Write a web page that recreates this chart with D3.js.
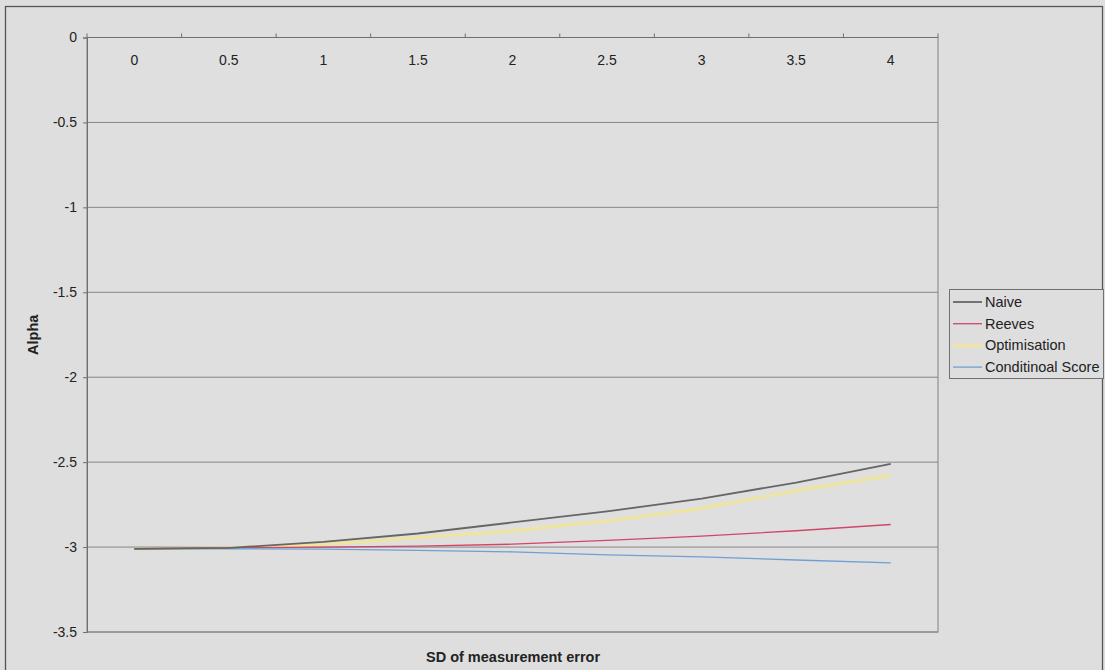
<!DOCTYPE html>
<html>
<head>
<meta charset="utf-8">
<script src="https://cdn.jsdelivr.net/npm/d3@7"></script>
<style>
  html, body { margin: 0; padding: 0; background: #dedede; }
  svg { display: block; font-family: "Liberation Sans", Arial, sans-serif; }
</style>
</head>
<body>
<svg id="chart" width="1105" height="670"></svg>
<script>
// SD of measurement error (category axis)
const categories = ["0", "0.5", "1", "1.5", "2", "2.5", "3", "3.5", "4"];

// Estimated alpha for each method
const naive        = [-3.01, -3.005, -2.97, -2.92, -2.855, -2.79, -2.715, -2.62, -2.51];
const reeves       = [-3.01, -3.005, -3.0, -2.995, -2.983, -2.96, -2.935, -2.904, -2.867];
const optimisation = [-3.01, -3.005, -2.985, -2.945, -2.905, -2.846, -2.772, -2.668, -2.578];
const condScore    = [-3.01, -3.01, -3.012, -3.02, -3.028, -3.046, -3.058, -3.076, -3.093];

const yTicks = [0, -0.5, -1, -1.5, -2, -2.5, -3, -3.5];

const seriesNames  = ["Naive", "Reeves", "Optimisation", "Conditinoal Score"];
const seriesValues = [naive, reeves, optimisation, condScore];
const seriesColors = ["#666666", "#d2456a", "#efe4a0", "#6f9fd4"];
const seriesWidths = [1.8, 1.3, 3.2, 1.3];

const FONT = "'Liberation Sans', Arial, sans-serif";
const svg = d3.select("#chart");
const plot = { left: 87, top: 37.5, right: 938, bottom: 632 };

// chart frame
svg.append("rect")
  .attr("x", 5.5).attr("y", 6.5).attr("width", 1097).attr("height", 670)
  .attr("fill", "#dedede").attr("stroke", "#555").attr("stroke-width", 1.3);

const x = d3.scaleBand().domain(categories).range([plot.left, plot.right]).paddingInner(0).paddingOuter(0);
const y = d3.scaleLinear().domain([-3.5, 0]).range([plot.bottom, plot.top]);

// plot area
svg.append("rect")
  .attr("x", plot.left).attr("y", plot.top)
  .attr("width", plot.right - plot.left).attr("height", plot.bottom - plot.top)
  .attr("fill", "#dfdfdf").attr("stroke", "#808080").attr("stroke-width", 1);

// horizontal gridlines
svg.append("g").selectAll("line").data(yTicks.filter(v => v !== 0)).join("line")
  .attr("x1", plot.left).attr("x2", plot.right)
  .attr("y1", d => y(d)).attr("y2", d => y(d))
  .attr("stroke", "#868686").attr("stroke-width", 1);

// value axis
const yAxis = svg.append("g").attr("transform", `translate(${plot.left},0)`)
  .call(d3.axisLeft(y).tickValues(yTicks).tickSize(4).tickPadding(6).tickFormat(d => d3.format("")(d).replace("−", "-")));
yAxis.attr("font-size", null).attr("font-family", null);
yAxis.select(".domain").attr("stroke", "#707070");
yAxis.selectAll(".tick line").attr("stroke", "#707070");
yAxis.selectAll("text").attr("font-size", 14).attr("fill", "#222").style("font-family", FONT);

// category axis crossing at 0 (top), labels drawn inside below the line
const xAxis = svg.append("g").attr("transform", `translate(0,${y(0)})`);
xAxis.append("line").attr("x1", plot.left).attr("x2", plot.right)
  .attr("stroke", "#707070").attr("stroke-width", 1.2);
const bounds = categories.map(c => x(c)).concat([plot.right]);
xAxis.selectAll("line.tk").data(bounds).join("line").attr("class", "tk")
  .attr("x1", d => d).attr("x2", d => d).attr("y1", 0).attr("y2", -4)
  .attr("stroke", "#707070");
xAxis.selectAll("text").data(categories).join("text")
  .attr("x", d => x(d) + x.bandwidth() / 2).attr("y", 27.5)
  .attr("text-anchor", "middle").attr("font-size", 14).attr("fill", "#222")
  .text(d => d);

// series lines
const line = d3.line()
  .x((d, i) => x(categories[i]) + x.bandwidth() / 2)
  .y(d => y(d));

const drawOrder = [2, 1, 3, 0];
drawOrder.forEach(k => {
  svg.append("path").datum(seriesValues[k])
    .attr("d", line).attr("fill", "none")
    .attr("stroke", seriesColors[k]).attr("stroke-width", seriesWidths[k])
    .attr("stroke-linejoin", "round");
});

// axis titles
svg.append("text")
  .attr("transform", `translate(38,${(plot.top + plot.bottom) / 2}) rotate(-90)`)
  .attr("text-anchor", "middle").attr("font-size", 14.5).attr("font-weight", "bold").attr("fill", "#222")
  .text("Alpha");
svg.append("text")
  .attr("x", 513).attr("y", 662)
  .attr("text-anchor", "middle").attr("font-size", 14.5).attr("font-weight", "bold").attr("fill", "#222")
  .text("SD of measurement error");

// legend
const legend = svg.append("g").attr("transform", "translate(949,289)");
legend.append("rect").attr("x", 0.5).attr("y", 0.5).attr("width", 154).attr("height", 89)
  .attr("fill", "#dedede").attr("stroke", "#707070");
seriesNames.forEach((name, i) => {
  const cy = 13 + i * 21.7;
  legend.append("line").attr("x1", 4).attr("x2", 33).attr("y1", cy).attr("y2", cy)
    .attr("stroke", seriesColors[i]).attr("stroke-width", seriesWidths[i]);
  legend.append("text").attr("x", 36).attr("y", cy + 5)
    .attr("font-size", 14.5).attr("fill", "#222").text(name);
});
</script>
</body>
</html>
